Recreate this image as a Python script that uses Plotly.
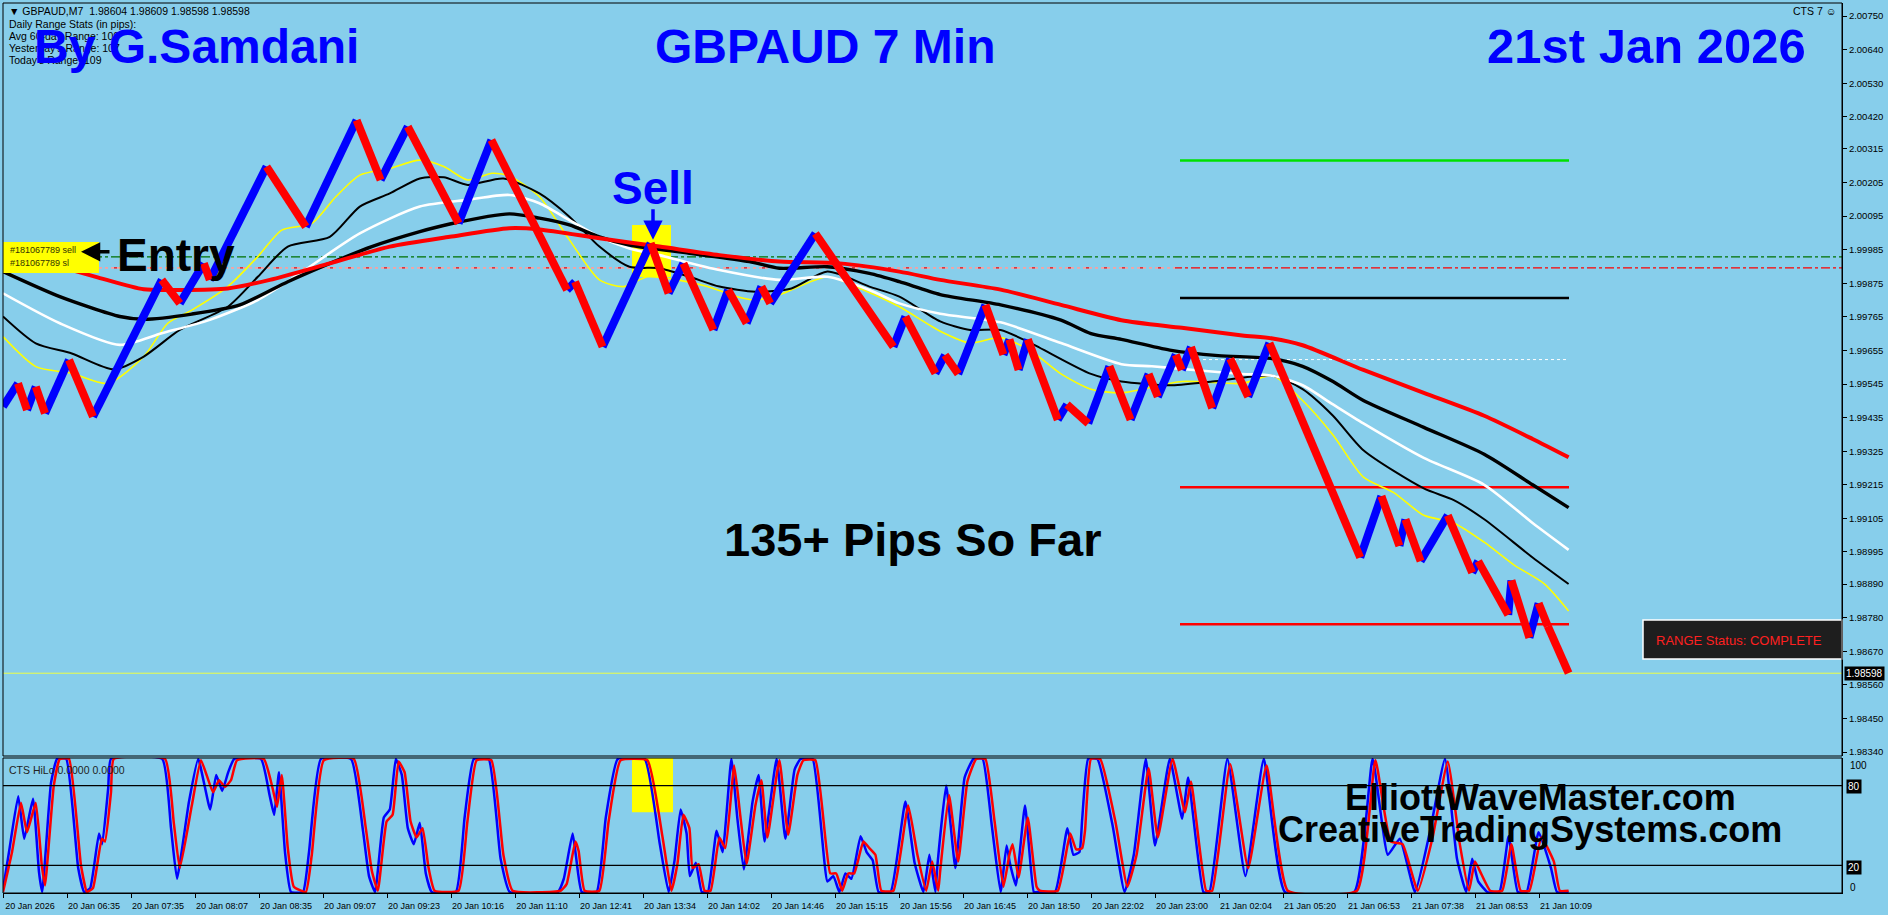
import plotly.graph_objects as go

# ---------------- DATA ----------------
# price zig-zag (bar index, price) - up legs drawn blue, down legs red
price_bar = [0, 3.75, 6.0, 8.2, 10.5, 16.5, 22.5, 39.7, 44.2, 50.2,
             51.7, 65.9, 75.7, 88.4, 94.4, 101.2, 113.9, 122.1, 141.0, 143.0,
             149.9, 161.9, 166.4, 170.1, 177.6, 181.3, 185.9, 189.6, 191.8, 203.1,
             222.6, 225.6, 233.1, 235.5, 238.8, 245.6, 250.1, 251.6, 253.9, 256.2,
             263.7, 266.0, 271.3, 276.6, 281.9, 286.4, 288.7, 293.2, 294.7, 297.0,
             302.3, 306.8, 311.3, 316.6, 339.3, 344.6, 349.1, 350.6, 354.4, 361.2,
             367.3, 368.8, 376.3, 377.1, 381.6, 383.9, 386.2, 391.4]
price_val = [1.99471, 1.99547, 1.99460, 1.99536, 1.99449, 1.99624, 1.99438, 1.99886, 1.99809, 1.99940,
             1.99886, 2.00257, 2.00060, 2.00409, 2.00213, 2.00388, 2.00071, 2.00344, 1.99853, 1.99880,
             1.99667, 2.00006, 1.99842, 1.99940, 1.99722, 1.99853, 1.99744, 1.99864, 1.99809, 2.00038,
             1.99667, 1.99766, 1.99580, 1.99640, 1.99578, 1.99804, 1.99641, 1.99691, 1.99591, 1.99691,
             1.99428, 1.99478, 1.99416, 1.99603, 1.99428, 1.99578, 1.99503, 1.99641, 1.99591, 1.99666,
             1.99466, 1.99628, 1.99503, 1.99679, 1.98977, 1.99178, 1.99015, 1.99102, 1.98965, 1.99115,
             1.98927, 1.98965, 1.98789, 1.98902, 1.98714, 1.98827, 1.98752, 1.98598]

ma_red_x = [0, 11.2, 23.2, 35.2, 44.2, 56.2, 66.7, 81.7, 96.7, 111.7, 126.6, 134.1, 149.1, 164.1, 179.1, 194.1,
            209.1, 224.1, 234.3, 249.4, 264.5, 279.6, 294.7, 309.8, 317.4, 324.9, 340.1, 355.2, 370.3, 382.4, 391.4]
ma_red_y = [1.99984, 1.99940, 1.99896, 1.99855, 1.99853, 1.99858, 1.99886, 1.99940, 1.99995, 2.00027, 2.00055,
            2.00051, 2.00022, 1.99995, 1.99967, 1.99946, 1.99940, 1.99913, 1.99886, 1.99854, 1.99804, 1.99754,
            1.99729, 1.99704, 1.99694, 1.99672, 1.99591, 1.99516, 1.99441, 1.99365, 1.99305]

ma_black_slow_x = [0, 14.2, 29.2, 35.2, 47.2, 59.2, 71.2, 81.7, 92.2, 104.2, 111.7, 126.6, 134.1, 141.6, 149.1,
                   156.6, 171.6, 186.6, 194.1, 206.1, 216.6, 224.1, 234.3, 249.4, 264.5, 272.0, 279.6, 291.7,
                   303.8, 317.4, 324.9, 332.5, 340.1, 355.2, 370.3, 382.4, 391.4]
ma_black_slow_y = [1.99913, 1.99831, 1.99766, 1.99757, 1.99774, 1.99804, 1.99880, 1.99940, 1.99995, 2.00044,
                   2.00069, 2.00102, 2.00088, 2.00066, 2.00027, 2.00000, 1.99973, 1.99946, 1.99924, 1.99929,
                   1.99907, 1.99880, 1.99838, 1.99804, 1.99754, 1.99710, 1.99691, 1.99656, 1.99638, 1.99628,
                   1.99603, 1.99553, 1.99491, 1.99403, 1.99315, 1.99215, 1.99140]

ma_white_x = [0, 14.2, 29.2, 39.7, 51.7, 63.7, 74.2, 89.2, 104.2, 116.2, 126.6, 134.1, 141.6, 149.1, 156.6,
              164.1, 179.1, 194.1, 206.1, 216.6, 224.1, 234.3, 249.4, 264.5, 279.6, 287.2, 297.7, 309.8, 317.4,
              324.9, 332.5, 340.1, 355.2, 370.3, 382.4, 391.4]
ma_white_y = [1.99842, 1.99744, 1.99673, 1.99711, 1.99755, 1.99820, 1.99907, 2.00038, 2.00126, 2.00148, 2.00164,
              2.00137, 2.00082, 2.00027, 1.99989, 1.99967, 1.99918, 1.99886, 1.99896, 1.99853, 1.99809, 1.99775,
              1.99747, 1.99679, 1.99610, 1.99603, 1.99591, 1.99578, 1.99572, 1.99541, 1.99478, 1.99416, 1.99303,
              1.99215, 1.99090, 1.99002]

ma_black_fast_x = [0, 8.2, 17.2, 27.7, 35.2, 44.2, 56.2, 63.7, 71.2, 81.7, 89.2, 96.7, 104.2, 110.2, 116.2,
                   125.1, 134.1, 141.6, 149.1, 156.6, 164.1, 171.6, 179.1, 188.1, 197.1, 206.1, 216.6, 224.1,
                   234.3, 241.8, 249.4, 256.9, 272.0, 279.6, 291.7, 302.3, 317.4, 324.9, 332.5, 340.1, 355.2,
                   362.7, 370.3, 382.4, 391.4]
ma_black_fast_y = [1.99766, 1.99678, 1.99645, 1.99593, 1.99635, 1.99722, 1.99798, 1.99896, 1.99995, 2.00027,
                   2.00126, 2.00169, 2.00218, 2.00222, 2.00197, 2.00218, 2.00169, 2.00093, 1.99995, 1.99929,
                   1.99924, 1.99896, 1.99864, 1.99847, 1.99858, 1.99913, 1.99864, 1.99831, 1.99750, 1.99722,
                   1.99722, 1.99679, 1.99578, 1.99553, 1.99541, 1.99553, 1.99572, 1.99528, 1.99441, 1.99328,
                   1.99203, 1.99165, 1.99102, 1.98977, 1.98890]

ma_yellow_x = [0, 8.2, 17.2, 26.2, 35.2, 41.2, 47.2, 56.2, 63.7, 69.7, 77.2, 83.2, 89.2, 96.7, 104.2, 110.2,
               116.2, 122.3, 126.6, 134.1, 141.6, 149.1, 155.1, 161.1, 168.6, 176.1, 183.6, 188.1, 194.1, 206.1,
               215.1, 224.1, 234.3, 241.8, 249.4, 256.9, 264.5, 272.0, 279.6, 294.7, 309.8, 317.4, 324.9, 332.5,
               340.1, 347.6, 355.2, 362.7, 370.3, 377.8, 385.4, 391.4]
ma_yellow_y = [1.99700, 1.99602, 1.99580, 1.99547, 1.99635, 1.99744, 1.99787, 1.99864, 1.99962, 2.00049,
               2.00071, 2.00158, 2.00229, 2.00251, 2.00278, 2.00257, 2.00213, 2.00235, 2.00226, 2.00158,
               2.00017, 1.99886, 1.99864, 1.99896, 1.99886, 1.99864, 1.99831, 1.99820, 1.99837, 1.99896,
               1.99853, 1.99798, 1.99718, 1.99679, 1.99697, 1.99654, 1.99578, 1.99528, 1.99516, 1.99553,
               1.99547, 1.99572, 1.99491, 1.99378, 1.99240, 1.99190, 1.99115, 1.99090, 1.99027, 1.98952,
               1.98890, 1.98802]

# oscillator "CTS HiLo" (bar, value)
osc_red = [(0, 0), (2.25, 30), (4.5, 67), (6.0, 45), (8.2, 67), (9.7, 20), (10.5, 5), (12.7, 80), (14.2, 100),
           (16.5, 100), (19.5, 20), (21.0, 0), (22.5, 3), (24.7, 40), (25.5, 38), (27.0, 75), (27.7, 100),
           (40.5, 100), (42.7, 52), (44.2, 18), (47.2, 65), (49.5, 99), (52.5, 75), (54.0, 84), (55.5, 79),
           (57.0, 84), (58.5, 99), (65.2, 100), (67.4, 78), (68.5, 64), (69.7, 88), (71.2, 33), (72.7, 4),
           (75.7, 0), (77.2, 28), (80.2, 99), (87.7, 100), (90.7, 48), (92.2, 16), (93.7, 1), (95.9, 53),
           (97.4, 58), (98.9, 98), (100.4, 90), (101.9, 53), (103.4, 41), (104.9, 48), (106.4, 18), (107.9, 1),
           (113.9, 1), (116.1, 53), (118.4, 99), (122.1, 99), (125.1, 28), (127.4, 1), (139.4, 1), (140.9, 6),
           (143.1, 38), (143.9, 31), (145.4, 1), (149.1, 1), (151.4, 53), (154.4, 99), (161.1, 99), (164.9, 41),
           (167.1, 1), (168.6, 21), (170.1, 58), (171.6, 48), (172.4, 18), (173.9, 21), (175.4, 1), (176.9, 1),
           (179.1, 41), (180.6, 33), (182.8, 95), (184.3, 58), (185.9, 21), (188.1, 65), (189.6, 84), (191.1, 41),
           (194.1, 99), (196.3, 43), (198.6, 88), (200.1, 99), (203.1, 99), (206.8, 14), (208.3, 14), (209.8, 1),
           (211.3, 14), (212.8, 14), (215.1, 38), (216.6, 33), (218.1, 28), (219.6, 1), (222.6, 1), (226.3, 65),
           (228.6, 28), (230.8, 1), (232.3, 23), (233.8, 1), (234.3, 16), (236.5, 73), (238.8, 23), (241.1, 83),
           (243.3, 100), (245.6, 100), (247.9, 53), (250.1, 4), (251.6, 28), (252.4, 36), (253.9, 11), (256.2, 56),
           (258.4, 4), (259.2, 1), (263.7, 1), (266.8, 44), (268.3, 32), (269.8, 33), (270.5, 46), (272.0, 100),
           (274.3, 100), (278.1, 53), (281.1, 4), (283.4, 28), (286.4, 93), (288.7, 41), (292.4, 100), (295.5, 60),
           (297.0, 83), (300.8, 1), (302.3, 1), (306.8, 96), (311.3, 18), (315.9, 95), (321.2, 1), (338.5, 1),
           (343.1, 99), (346.9, 38), (349.9, 36), (353.7, 1), (357.4, 41), (361.2, 98), (364.2, 36), (366.5, 1),
           (368.0, 23), (369.5, 14), (371.8, 1), (374.8, 1), (377.1, 36), (379.4, 1), (381.6, 1), (384.6, 41),
           (387.7, 23), (389.2, 1), (391.4, 1)]
osc_blue = [(0, 2), (1.6, 32), (3.8, 72), (5.3, 40), (7.5, 70), (9.0, 15), (9.8, 0), (12.0, 82), (13.5, 100),
            (15.8, 100), (18.8, 18), (20.3, 0), (21.8, 3), (24.0, 44), (24.8, 36), (26.3, 78), (27.0, 100),
            (39.8, 100), (42.0, 48), (43.5, 10), (46.5, 68), (48.8, 100), (51.8, 62), (53.3, 88), (54.8, 76),
            (56.3, 90), (57.8, 100), (64.5, 100), (66.7, 72), (67.8, 58), (69.0, 90), (70.5, 30), (72.0, 0),
            (75.0, 0), (76.5, 30), (79.5, 100), (87.0, 100), (90.0, 46), (91.5, 12), (93.0, 0), (95.2, 56),
            (96.7, 62), (98.2, 100), (99.7, 88), (101.2, 48), (102.7, 36), (104.2, 52), (105.7, 14), (107.2, 0),
            (113.2, 0), (115.4, 56), (117.7, 100), (121.4, 100), (124.4, 25), (126.7, 0), (138.7, 0), (140.2, 10),
            (142.4, 44), (143.2, 28), (144.7, 0), (148.4, 0), (150.7, 56), (153.7, 100), (160.4, 100), (164.2, 36),
            (166.4, 0), (167.9, 24), (169.4, 62), (170.9, 44), (171.7, 12), (173.2, 22), (174.7, 0), (176.2, 0),
            (178.4, 46), (179.9, 30), (182.1, 100), (183.6, 55), (185.2, 17), (187.4, 68), (188.9, 88), (190.4, 38),
            (193.4, 100), (195.6, 40), (197.9, 92), (199.4, 100), (202.4, 100), (206.1, 8), (207.6, 12), (209.1, 0),
            (210.6, 14), (212.1, 10), (214.4, 42), (215.9, 30), (217.4, 24), (218.9, 0), (221.9, 0), (225.6, 68),
            (227.9, 22), (230.1, 0), (231.6, 28), (233.1, 0), (233.6, 20), (235.8, 80), (238.1, 18), (240.4, 86),
            (242.6, 100), (244.9, 100), (247.2, 50), (249.4, 0), (250.9, 35), (251.7, 22), (253.2, 5), (255.5, 65),
            (257.7, 0), (258.5, 0), (263.0, 0), (266.1, 48), (267.6, 28), (269.1, 30), (269.8, 55), (271.3, 100),
            (273.6, 100), (277.4, 50), (280.4, 0), (282.7, 28), (285.7, 100), (288.0, 35), (291.7, 100), (294.8, 55),
            (296.3, 86), (300.1, 0), (301.6, 0), (306.1, 100), (310.6, 12), (315.2, 100), (320.5, 0), (337.8, 0),
            (342.4, 100), (346.2, 28), (349.2, 40), (353.0, 0), (356.7, 45), (360.5, 100), (363.5, 25), (365.8, 0),
            (367.3, 25), (368.8, 8), (371.1, 0), (374.1, 0), (376.4, 42), (378.7, 0), (380.9, 0), (383.9, 45),
            (387.0, 18), (388.5, 0), (391.4, 0)]

x_tick_labels = ["20 Jan 2026", "20 Jan 06:35", "20 Jan 07:35", "20 Jan 08:07", "20 Jan 08:35",
                 "20 Jan 09:07", "20 Jan 09:23", "20 Jan 10:16", "20 Jan 11:10", "20 Jan 12:41",
                 "20 Jan 13:34", "20 Jan 14:02", "20 Jan 14:46", "20 Jan 15:15", "20 Jan 15:56",
                 "20 Jan 16:45", "20 Jan 18:50", "20 Jan 22:02", "20 Jan 23:00", "21 Jan 02:04",
                 "21 Jan 05:20", "21 Jan 06:53", "21 Jan 07:38", "21 Jan 08:53", "21 Jan 10:09"]
y_tick_labels = ["2.00750", "2.00640", "2.00530", "2.00420", "2.00315", "2.00205", "2.00095", "1.99985",
                 "1.99875", "1.99765", "1.99655", "1.99545", "1.99435", "1.99325", "1.99215", "1.99105",
                 "1.98995", "1.98890", "1.98780", "1.98670", "1.98560", "1.98450", "1.98340"]

# horizontal levels
lvl_trade_open = 1.99961      # green dash-dot (sell order)
lvl_trade_sl = 1.99925        # red dash-dot (stop loss)
lvl_green = 2.00277
lvl_black = 1.99827
lvl_white_dot = 1.99625
lvl_red_hi = 1.99207
lvl_red_lo = 1.98758
last_price = 1.98598

# ---------------- LAYOUT GEOMETRY ----------------
BG = "#87CEEB"
W, H = 1888, 915
ML, MR, MT, MB = 3, 46, 3, 22
PW = W - ML - MR
PH = H - MT - MB
FONT = "Liberation Sans, Arial, sans-serif"


def px(x):
    return (x - ML) / PW


def py(y):
    return (H - MB - y) / PH


main_dom = [py(756), 1.0]
osc_dom = [0.0, py(758)]
XMAX = (W - MR - ML) / 4.0

fig = go.Figure()

# moving averages
for xs, ys, col, wd in [(ma_yellow_x, ma_yellow_y, "#FFFF00", 1.6),
                        (ma_black_fast_x, ma_black_fast_y, "#000000", 2.0),
                        (ma_white_x, ma_white_y, "#FFFFFF", 2.6),
                        (ma_black_slow_x, ma_black_slow_y, "#000000", 3.4),
                        (ma_red_x, ma_red_y, "#FF0000", 4.0)]:
    assert len(xs) == len(ys)
    fig.add_trace(go.Scatter(x=xs, y=ys, mode="lines", hoverinfo="skip", showlegend=False,
                             line=dict(color=col, width=wd, shape="spline", smoothing=0.7)))

# price legs
assert len(price_bar) == len(price_val)
ux, uy, dx, dy = [], [], [], []
for i in range(1, len(price_bar)):
    seg_x = [price_bar[i - 1], price_bar[i], None]
    seg_y = [price_val[i - 1], price_val[i], None]
    if price_val[i] >= price_val[i - 1]:
        ux += seg_x
        uy += seg_y
    else:
        dx += seg_x
        dy += seg_y
fig.add_trace(go.Scatter(x=ux, y=uy, mode="lines", line=dict(color="#0000FF", width=8),
                         hoverinfo="skip", showlegend=False))
fig.add_trace(go.Scatter(x=dx, y=dy, mode="lines", line=dict(color="#FF0000", width=8),
                         hoverinfo="skip", showlegend=False))

# oscillator
fig.add_trace(go.Scatter(x=[p[0] for p in osc_blue], y=[p[1] for p in osc_blue], mode="lines",
                         line=dict(color="#0000FF", width=2.5, shape="spline", smoothing=0.4),
                         xaxis="x", yaxis="y2", hoverinfo="skip", showlegend=False))
fig.add_trace(go.Scatter(x=[p[0] for p in osc_red], y=[p[1] for p in osc_red], mode="lines",
                         line=dict(color="#FF0000", width=2.5, shape="spline", smoothing=0.4),
                         xaxis="x", yaxis="y2", hoverinfo="skip", showlegend=False))

shapes = []
# level lines
shapes.append(dict(type="line", xref="x", yref="y", x0=0, x1=XMAX, y0=lvl_trade_open, y1=lvl_trade_open,
                   line=dict(color="#007000", width=1.2, dash="dashdot"), layer="below"))
shapes.append(dict(type="line", xref="x", yref="y", x0=0, x1=XMAX, y0=lvl_trade_sl, y1=lvl_trade_sl,
                   line=dict(color="#FF0000", width=1.2, dash="dashdot"), layer="below"))
shapes.append(dict(type="line", xref="x", yref="y", x0=0, x1=293, y0=lvl_trade_sl, y1=lvl_trade_sl,
                   line=dict(color="#FFFFFF", width=1, dash="dot"), layer="below"))
for lv, col in [(lvl_green, "#00E000"), (lvl_black, "#000000"), (lvl_red_hi, "#FF0000"), (lvl_red_lo, "#FF0000")]:
    shapes.append(dict(type="line", xref="x", yref="y", x0=294.25, x1=391.5, y0=lv, y1=lv,
                       line=dict(color=col, width=2.5), layer="below"))
shapes.append(dict(type="line", xref="x", yref="y", x0=297, x1=391.5, y0=lvl_white_dot, y1=lvl_white_dot,
                   line=dict(color="#FFFFFF", width=1, dash="dot"), layer="below"))
shapes.append(dict(type="line", xref="x", yref="y", x0=0, x1=XMAX, y0=last_price, y1=last_price,
                   line=dict(color="#EEFF44", width=1), layer="below"))
# sell highlight boxes
shapes.append(dict(type="rect", xref="x", yref="y", x0=157.25, x1=167, y0=1.99895, y1=2.00066,
                   fillcolor="#FFFF00", line=dict(width=0), layer="below"))
shapes.append(dict(type="rect", xref="x", yref="y2", x0=157.25, x1=167.5, y0=60, y1=100.7,
                   fillcolor="#FFFF00", line=dict(width=0), layer="below"))
# oscillator levels
for lv in (80, 20):
    shapes.append(dict(type="line", xref="paper", yref="y2", x0=0, x1=1, y0=lv, y1=lv,
                       line=dict(color="#000000", width=1.2)))
# trade label box
shapes.append(dict(type="rect", xref="paper", yref="paper", x0=px(3), x1=px(99), y0=py(273), y1=py(242),
                   fillcolor="#FFFF00", line=dict(width=0)))
# range status box
shapes.append(dict(type="rect", xref="paper", yref="paper", x0=px(1643), x1=px(1842), y0=py(659), y1=py(620),
                   fillcolor="#1E1E1E", line=dict(color="#FFFFFF", width=1.5)))
# panel borders
shapes.append(dict(type="rect", xref="paper", yref="paper", x0=0, x1=1, y0=main_dom[0], y1=1,
                   line=dict(color="#000000", width=1)))
shapes.append(dict(type="rect", xref="paper", yref="paper", x0=0, x1=1, y0=0, y1=osc_dom[1],
                   line=dict(color="#000000", width=1)))

ann = []


def txt(x, y, s, size, color="#000000", xanchor="center", bold=False, bg=None, family=FONT):
    d = dict(xref="paper", yref="paper", x=px(x), y=py(y), text=("<b>%s</b>" % s) if bold else s,
             showarrow=False, xanchor=xanchor, yanchor="middle",
             font=dict(family=family, size=size, color=color))
    if bg:
        d.update(bgcolor=bg, borderpad=1)
    ann.append(d)


# header info
txt(7, 11, "▼ GBPAUD,M7\u00a0\u00a01.98604 1.98609 1.98598 1.98598", 10.5, xanchor="left")
txt(7, 24, "Daily Range Stats (in pips):", 10.5, xanchor="left")
txt(7, 36, "Avg 60-day Range: 100", 10.5, xanchor="left")
txt(7, 48, "Yesterday's Range: 107", 10.5, xanchor="left")
txt(7, 60, "Today's Range: 109", 10.5, xanchor="left")
txt(1838, 11, "CTS 7 ☺", 10.5, xanchor="right")
txt(7, 770, "CTS HiLo 0.0000 0.0000", 10.5, color="#222222", xanchor="left")

# big titles
txt(196, 46, "By G.Samdani", 48, color="#0000FF", bold=True)
txt(825, 46, "GBPAUD 7 Min", 48, color="#0000FF", bold=True)
txt(1646, 46, "21st Jan 2026", 49, color="#0000FF", bold=True)
txt(653, 188, "Sell", 46, color="#0000FF", bold=True)
txt(115, 255, "Entry", 46, bold=True, xanchor="left")
txt(913, 539, "135+ Pips So Far", 47, bold=True)
txt(1540, 797, "ElliottWaveMaster.com", 36, bold=True)
txt(1530, 829, "CreativeTradingSystems.com", 36, bold=True)
txt(1739, 640, "RANGE Status: COMPLETE", 13, color="#FF2020")
txt(8, 250, "#181067789 sell", 9, color="#333300", xanchor="left")
txt(8, 263, "#181067789 sl", 9, color="#333300", xanchor="left")

# right-side labels
txt(1844, 673, "1.98598", 10, color="#FFFFFF", xanchor="left", bg="#000000")
txt(1848, 765, "100", 10, xanchor="left")
txt(1846, 786, "80", 10, color="#FFFFFF", xanchor="left", bg="#000000")
txt(1846, 867, "20", 10, color="#FFFFFF", xanchor="left", bg="#000000")
txt(1848, 887, "0", 10, xanchor="left")

# arrows
ann.append(dict(xref="x", yref="y", x=162.5, y=2.00017, ax=0, ay=-32, text="", showarrow=True,
                arrowhead=2, arrowsize=1.1, arrowwidth=3.5, arrowcolor="#0000FF"))
ann.append(dict(xref="x", yref="y", x=19.5, y=1.99978, ax=30, ay=0, text="", showarrow=True,
                arrowhead=2, arrowsize=1.1, arrowwidth=3.5, arrowcolor="#000000"))

fig.update_layout(
    width=W, height=H, margin=dict(l=ML, r=MR, t=MT, b=MB, pad=0),
    paper_bgcolor=BG, plot_bgcolor=BG, showlegend=False,
    shapes=shapes, annotations=ann,
    xaxis=dict(domain=[0, 1], range=[0, XMAX], anchor="y2", showgrid=False, zeroline=False,
               showline=True, linecolor="#000000", ticks="outside", ticklen=4, tickcolor="#000000",
               tickvals=[16 * k for k in range(len(x_tick_labels))], ticktext=x_tick_labels,
               tickfont=dict(family=FONT, size=9, color="#000000"), ticklabelshift=27),
    yaxis=dict(domain=main_dom, range=[1.983269, 2.007926], side="right", anchor="x", showgrid=False,
               zeroline=False, showline=True, linecolor="#000000", ticks="outside", ticklen=4,
               tickcolor="#000000", tickvals=[float(v) for v in y_tick_labels], ticktext=y_tick_labels,
               tickfont=dict(family=FONT, size=9.5, color="#000000")),
    yaxis2=dict(domain=osc_dom, range=[-0.7, 100.7], side="right", anchor="x", showgrid=False,
                zeroline=False, showline=True, linecolor="#000000", showticklabels=False, ticks=""),
)

fig.write_html("out.html", config={"displayModeBar": False},
               post_script="document.body.style.margin='0';document.body.style.overflow='hidden';")
